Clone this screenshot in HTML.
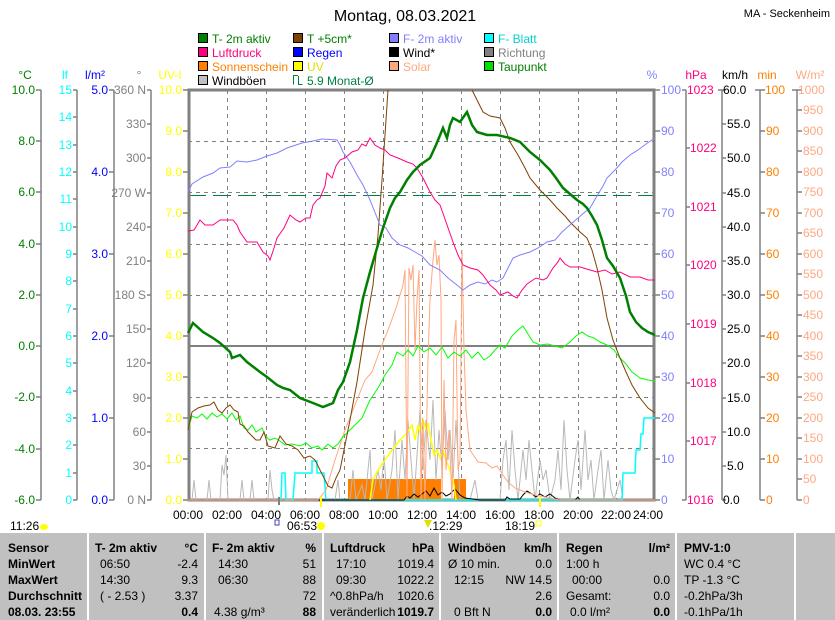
<!DOCTYPE html>
<html><head><meta charset="utf-8"><style>
html,body{margin:0;padding:0;background:#fff;}
body{width:835px;height:620px;overflow:hidden;position:relative;font-family:"Liberation Sans",sans-serif;}
svg{position:absolute;left:0;top:0;}
svg text{font-family:"Liberation Sans",sans-serif;font-size:12px;}
.tbl{position:absolute;left:0;top:533px;width:835px;height:87px;background:#c0c0c0;}
.col{position:absolute;top:0;height:87px;border-left:2px solid #fff;}
.r{position:absolute;font-size:12px;white-space:nowrap;color:#000;}
.b{font-weight:bold;}
</style></head><body>
<svg width="835" height="620" xmlns="http://www.w3.org/2000/svg">
<text x="405" y="21" font-size="16" style="font-size:16px" text-anchor="middle">Montag, 08.03.2021</text>
<text x="830" y="17" text-anchor="end" style="font-size:11px">MA - Seckenheim</text>
<g stroke="#000" stroke-width="1">
<rect x="198.5" y="33.5" width="9" height="9" fill="#008000"/>
<rect x="198.5" y="47.5" width="9" height="9" fill="#ff0080"/>
<rect x="198.5" y="61.5" width="9" height="9" fill="#ff8000"/>
<rect x="198.5" y="75.5" width="9" height="9" fill="#c0c0c0"/>
<rect x="293.5" y="33.5" width="9" height="9" fill="#804000"/>
<rect x="293.5" y="47.5" width="9" height="9" fill="#0000ff"/>
<rect x="293.5" y="61.5" width="9" height="9" fill="#ffff00"/>
<rect x="389.5" y="33.5" width="9" height="9" fill="#8080ff"/>
<rect x="389.5" y="47.5" width="9" height="9" fill="#000"/>
<rect x="389.5" y="61.5" width="9" height="9" fill="#ffa880"/>
<rect x="484.5" y="33.5" width="9" height="9" fill="#00ffff"/>
<rect x="484.5" y="47.5" width="9" height="9" fill="#808080"/>
<rect x="484.5" y="61.5" width="9" height="9" fill="#00e000"/>
</g>
<path d="M298.5 76 V84.5 H302.5 M293.5 84.5 V75.5 H298" stroke="#008040" fill="none"/>
<g>
<text x="212" y="43" fill="#008000">T- 2m aktiv</text>
<text x="212" y="57" fill="#ff0080">Luftdruck</text>
<text x="212" y="71" fill="#ff8000">Sonnenschein</text>
<text x="212" y="85" fill="#000">Windböen</text>
<text x="307" y="43" fill="#008000">T +5cm*</text>
<text x="307" y="57" fill="#0000ff">Regen</text>
<text x="307" y="71" fill="#e0e000">UV</text>
<text x="307" y="85" fill="#008040">5.9 Monat-Ø</text>
<text x="403" y="43" fill="#8080ff">F- 2m aktiv</text>
<text x="403" y="57" fill="#000">Wind*</text>
<text x="403" y="71" fill="#ffa880">Solar</text>
<text x="498" y="43" fill="#00d0d0">F- Blatt</text>
<text x="498" y="57" fill="#808080">Richtung</text>
<text x="498" y="71" fill="#008000">Taupunkt</text>
</g>
<text x="25" y="79" fill="#008000" text-anchor="middle">°C</text>
<text x="65" y="79" fill="#00ffff" text-anchor="middle">lf</text>
<text x="95" y="79" fill="#0000ff" text-anchor="middle">l/m²</text>
<text x="139" y="79" fill="#808080" text-anchor="middle">°</text>
<text x="170" y="79" fill="#ffff00" text-anchor="middle">UV-I</text>
<text x="652" y="79" fill="#8080ff" text-anchor="middle">%</text>
<text x="696" y="79" fill="#ff0080" text-anchor="middle">hPa</text>
<text x="735" y="79" fill="#000" text-anchor="middle">km/h</text>
<text x="767" y="79" fill="#ff8000" text-anchor="middle">min</text>
<text x="810" y="79" fill="#ffa880" text-anchor="middle">W/m²</text>

<g stroke="#808080" stroke-dasharray="4,4" stroke-width="1">
<path d="M188 141.5H655M188 192.5H655M188 244.5H655M188 295.5H655M188 397.5H655M188 448.5H655"/>
<path d="M227.5 90V500M266.5 90V500M305.5 90V500M344.5 90V500M383.5 90V500M422.5 90V500M461.5 90V500M500.5 90V500M539.5 90V500M578.5 90V500M616.5 90V500"/>
</g>
<path d="M188 195.5H655" stroke="#008040" stroke-dasharray="18,7" stroke-width="1"/>
<path d="M188 346H655" stroke="#808080" stroke-width="2"/>
<rect x="189" y="90" width="465" height="410" fill="none" stroke="#808080" stroke-width="3"/>

<g stroke="#808080" stroke-width="1.5" fill="none">
<path d="M41 90V500M77 90V500M114 90V500M151 90V500"/>
<path d="M36 90H41M36 141H41M36 192H41M36 244H41M36 295H41M36 346H41M36 397H41M36 449H41M36 500H41"/>
<path d="M73 90H77M73 117H77M73 145H77M73 172H77M73 199H77M73 227H77M73 254H77M73 281H77M73 309H77M73 336H77M73 363H77M73 391H77M73 418H77M73 445H77M73 473H77M73 500H77"/>
<path d="M109 90H114M109 172H114M109 254H114M109 336H114M109 418H114M109 500H114"/>
<path d="M147 90H151M147 124H151M147 158H151M147 193H151M147 227H151M147 261H151M147 295H151M147 329H151M147 363H151M147 398H151M147 432H151M147 466H151M147 500H151"/>
<path d="M183 90H188M183 131H188M183 172H188M183 213H188M183 254H188M183 295H188M183 336H188M183 377H188M183 418H188M183 459H188M183 500H188"/>
</g>
<g fill="#008000" text-anchor="end">
<text x="35" y="94">10.0</text><text x="35" y="145">8.0</text><text x="35" y="196">6.0</text><text x="35" y="248">4.0</text><text x="35" y="299">2.0</text><text x="35" y="350">0.0</text><text x="35" y="401">-2.0</text><text x="35" y="453">-4.0</text><text x="35" y="504">-6.0</text>
</g>
<g fill="#00ffff" text-anchor="end">
<text x="72" y="94">15</text><text x="72" y="121">14</text><text x="72" y="149">13</text><text x="72" y="176">12</text><text x="72" y="203">11</text><text x="72" y="231">10</text><text x="72" y="258">9</text><text x="72" y="285">8</text><text x="72" y="313">7</text><text x="72" y="340">6</text><text x="72" y="367">5</text><text x="72" y="395">4</text><text x="72" y="422">3</text><text x="72" y="449">2</text><text x="72" y="477">1</text><text x="72" y="504">0</text>
</g>
<g fill="#0000ff" text-anchor="end">
<text x="108" y="94">5.0</text><text x="108" y="176">4.0</text><text x="108" y="258">3.0</text><text x="108" y="340">2.0</text><text x="108" y="422">1.0</text><text x="108" y="504">0.0</text>
</g>
<g fill="#808080" text-anchor="end">
<text x="146" y="94">360 N</text><text x="146" y="128">330</text><text x="146" y="162">300</text><text x="146" y="197">270 W</text><text x="146" y="231">240</text><text x="146" y="265">210</text><text x="146" y="299">180 S</text><text x="146" y="333">150</text><text x="146" y="367">120</text><text x="146" y="402">90</text><text x="146" y="436">60</text><text x="146" y="470">30</text><text x="146" y="504">0 N</text>
</g>
<g fill="#ffff00" text-anchor="end">
<text x="182" y="94">10.0</text><text x="182" y="135">9.0</text><text x="182" y="176">8.0</text><text x="182" y="217">7.0</text><text x="182" y="258">6.0</text><text x="182" y="299">5.0</text><text x="182" y="340">4.0</text><text x="182" y="381">3.0</text><text x="182" y="422">2.0</text><text x="182" y="463">1.0</text><text x="182" y="504">0.0</text>
</g>

<g stroke="#808080" stroke-width="1.5" fill="none">
<path d="M686 90V500M722 90V500M760 90V500M797 90V500"/>
<path d="M655 90H660M655 131H660M655 172H660M655 213H660M655 254H660M655 295H660M655 336H660M655 377H660M655 418H660M655 459H660M655 500H660"/>
<path d="M682 90H686M686 148H690M686 207H690M686 265H690M686 324H690M686 383H690M686 441H690M682 500H686"/>
<path d="M722 90H726M722 124H726M722 158H726M722 193H726M722 227H726M722 261H726M722 295H726M722 329H726M722 363H726M722 398H726M722 432H726M722 466H726M722 500H726"/>
<path d="M760 90H765M760 131H765M760 172H765M760 213H765M760 254H765M760 295H765M760 336H765M760 377H765M760 418H765M760 459H765M760 500H765"/>
<path d="M797 90H802M797 110H802M797 131H802M797 151H802M797 172H802M797 192H802M797 213H802M797 233H802M797 254H802M797 274H802M797 295H802M797 315H802M797 336H802M797 356H802M797 377H802M797 397H802M797 418H802M797 438H802M797 459H802M797 479H802M797 500H802"/>
<path d="M718 90H722M755 90H760M792 90H797"/>
</g>
<g fill="#8080ff">
<text x="661" y="94">100</text><text x="661" y="135">90</text><text x="661" y="176">80</text><text x="661" y="217">70</text><text x="661" y="258">60</text><text x="661" y="299">50</text><text x="661" y="340">40</text><text x="661" y="381">30</text><text x="661" y="422">20</text><text x="661" y="463">10</text><text x="661" y="504">0</text>
</g>
<g fill="#ff0080">
<text x="687" y="94">1023</text><text x="690" y="152">1022</text><text x="690" y="211">1021</text><text x="690" y="269">1020</text><text x="690" y="328">1019</text><text x="690" y="387">1018</text><text x="690" y="445">1017</text><text x="687" y="504">1016</text>
</g>
<g fill="#000">
<text x="723" y="94">60.0</text><text x="727" y="128">55.0</text><text x="727" y="162">50.0</text><text x="727" y="197">45.0</text><text x="727" y="231">40.0</text><text x="727" y="265">35.0</text><text x="727" y="299">30.0</text><text x="727" y="333">25.0</text><text x="727" y="367">20.0</text><text x="727" y="402">15.0</text><text x="727" y="436">10.0</text><text x="727" y="470">5.0</text><text x="723" y="504">0.0</text>
</g>
<g fill="#ff8000">
<text x="765" y="94">100</text><text x="766" y="135">90</text><text x="766" y="176">80</text><text x="766" y="217">70</text><text x="766" y="258">60</text><text x="766" y="299">50</text><text x="766" y="340">40</text><text x="766" y="381">30</text><text x="766" y="422">20</text><text x="766" y="463">10</text><text x="766" y="504">0</text>
</g>
<g fill="#ffa880">
<text x="798" y="94">1000</text><text x="803" y="114">950</text><text x="803" y="135">900</text><text x="803" y="155">850</text><text x="803" y="176">800</text><text x="803" y="196">750</text><text x="803" y="217">700</text><text x="803" y="237">650</text><text x="803" y="258">600</text><text x="803" y="278">550</text><text x="803" y="299">500</text><text x="803" y="319">450</text><text x="803" y="340">400</text><text x="803" y="360">350</text><text x="803" y="381">300</text><text x="803" y="401">250</text><text x="803" y="422">200</text><text x="803" y="442">150</text><text x="803" y="463">100</text><text x="803" y="483">50</text><text x="803" y="504">0</text>
</g>

<path d="M348 479H441V500H348Z M454 479H466V500H454Z" fill="#ff8000"/>
<polyline fill="none" stroke="#b8b8b8" stroke-width="1" points="192,500 194,480 196,500 207,500 209,480 211,500 220,500 222,465 224,475 226,455 228,500 240,500 242,480 244,500 250,500 252,480 254,500 268,500 270,470 272,490 274,500 335,500 338,480 340,500 350,500 353,470 356,500 362,485 365,500 370,450 372,500 378,470 381,490 384,455 387,500 392,470 395,430 398,500 402,440 405,480 408,420 411,460 414,500 418,440 420,410 423,470 426,420 430,460 433,400 436,480 439,430 442,470 445,410 448,460 450,430 453,480 456,420 460,500 470,500 475,480 478,500 500,500 503,460 506,440 509,490 512,430 515,470 518,500 523,450 526,480 529,440 532,470 535,500 540,460 543,480 546,470 550,500 555,480 558,450 561,490 564,420 567,470 570,500 575,460 578,440 581,490 585,430 588,480 591,460 594,500 598,470 601,450 604,500 608,460 611,490 614,500 620,480 623,500"/>
<polyline fill="none" stroke="#00ffff" stroke-width="1.5" points="281,500 282,473 285,473 286,500 293,500 295,473 312,473 312,461 317,461 317,473 324,473 326,500 620,500 622,500 623,473 635,473 636,450 640,450 641,434 643,434 644,418 655,418"/>
<polyline fill="none" stroke="#000" stroke-width="1" points="188,500 404,500 407,496 410,498 414,494 418,497 422,494 426,491 430,496 434,488 438,495 442,492 446,496 450,494 455,489 460,495 465,498 480,500 505,500 507,497 510,499 520,499 523,495 527,491 532,494 536,497 540,494 545,497 550,494 555,498 560,500 575,500 578,497 580,500 655,500"/>
<polyline fill="none" stroke="#ffff00" stroke-width="1.5" points="370,500 373,480 378,470 385,460 392,450 400,440 407,433 412,425 415,440 418,425 420,432 423,420 426,430 428,423 431,440 434,455 437,450 440,458 443,450 446,460 450,470 454,485 456,500"/>
<polyline fill="none" stroke="#ffa880" stroke-width="1" points="188,500 318,500 326,490 335,460 345,430 355,405 365,380 372,372 380,350 390,325 397,305 403,285 405,270 407,500 409,268 411,280 413,265 415,350 417,300 419,270 421,500 423,420 425,500 428,360 430,300 433,260 435,240 437,265 439,255 441,300 442,500 444,380 446,470 449,430 452,500 454,340 456,320 458,470 460,460 462,250 464,350 466,410 470,450 478,462 486,463 492,468 497,466 503,475 508,482 515,488 525,492 535,495 545,497 560,500 655,500"/>
<polyline fill="none" stroke="#00ff00" stroke-width="1" points="188,430 192,416 197,418 202,414 207,419 212,413 217,417 222,414 227,419 232,413 236,420 240,416 244,428 248,430 252,425 256,432 262,428 266,437 270,440 275,438 280,441 285,445 292,444 300,446 306,443 312,448 318,446 322,450 328,444 333,448 338,444 342,438 348,432 355,425 362,418 370,400 378,388 385,375 392,365 397,352 403,356 408,350 413,356 418,346 424,352 430,348 436,355 442,347 448,358 454,352 460,356 466,350 472,358 478,352 484,360 490,356 495,350 500,345 505,348 512,336 518,330 523,326 528,334 533,342 540,345 548,344 555,346 562,348 570,342 576,336 582,332 588,336 594,338 600,342 607,345 614,350 620,358 626,364 632,372 640,378 648,380 655,381"/>
<polyline fill="none" stroke="#804000" stroke-width="1" points="188,430 192,412 198,408 204,406 210,405 214,402 218,410 222,413 226,408 230,405 234,410 238,412 240,424 244,426 248,432 252,436 256,440 260,440 264,432 268,446 275,448 280,436 286,444 292,446 298,450 304,458 310,456 315,460 320,470 324,478 328,486 332,488 336,478 340,470 344,450 350,420 357,382 365,330 373,285 378,235 382,180 386,120 388,90"/>
<polyline fill="none" stroke="#804000" stroke-width="1" points="472,90 478,102 483,112 490,116 500,118 505,128 510,142 518,155 525,168 530,178 540,190 550,200 557,208 565,216 570,222 580,232 587,238 592,250 597,268 602,290 607,318 613,340 620,358 626,372 632,385 640,398 648,408 655,413"/>
<polyline fill="none" stroke="#8080ff" stroke-width="1" points="188,192 192,184 203,177 213,173 220,168 230,167 237,161 247,162 257,160 267,156 277,153 287,148 302,143 313,141 322,139 337,140 340,145 343,152 350,162 357,175 363,185 370,200 376,215 380,225 386,228 392,238 400,245 408,248 415,252 422,256 430,265 440,270 448,278 457,285 463,290 470,285 478,282 485,284 492,280 497,282 503,278 508,268 513,258 520,255 530,252 538,248 547,242 555,240 562,232 570,225 578,218 585,212 590,208 597,196 603,186 607,178 615,170 622,162 630,155 638,150 646,144 655,138"/>
<polyline fill="none" stroke="#ff0080" stroke-width="1" points="188,231 194,230 200,220 205,225 213,225 220,220 226,220 233,220 237,225 240,232 247,242 257,242 263,252 268,256 270,260 274,248 277,238 284,228 290,215 296,220 300,222 306,218 310,218 313,205 317,200 320,198 325,186 327,173 332,178 336,166 340,160 345,158 352,152 358,150 362,144 366,146 370,138 375,145 380,148 385,150 390,155 398,158 407,162 413,164 417,168 423,178 430,192 435,200 440,205 446,222 453,242 458,255 463,265 470,268 478,270 483,275 490,285 496,290 500,295 508,292 513,296 517,298 522,290 527,284 530,282 536,278 543,280 547,278 553,268 558,262 560,258 565,264 570,267 580,267 590,270 597,272 605,270 612,274 620,272 630,277 640,277 648,280 655,280"/>
<polyline fill="none" stroke="#008000" stroke-width="2.5" points="188,333 193,323 203,332 213,338 220,343 230,352 232,358 240,355 247,362 260,372 267,377 277,385 283,388 290,390 300,398 313,403 323,407 333,403 338,390 343,382 350,362 357,330 363,298 370,272 377,248 383,228 390,208 395,198 400,192 407,180 413,172 420,165 430,158 436,145 443,128 447,138 450,125 453,118 460,122 467,112 472,125 477,132 487,135 497,135 510,138 520,142 530,152 540,160 550,170 556,178 563,188 570,194 577,200 583,204 587,208 592,216 597,225 602,240 607,258 613,266 620,278 626,296 630,312 636,322 642,328 648,332 655,335"/>

<g fill="#000" text-anchor="middle">
<text x="188" y="519">00:00</text><text x="227" y="519">02:00</text><text x="266" y="519">04:00</text><text x="305" y="519">06:00</text><text x="344" y="519">08:00</text><text x="383" y="519">10:00</text><text x="422" y="519">12:00</text><text x="461" y="519">14:00</text><text x="500" y="519">16:00</text><text x="539" y="519">18:00</text><text x="578" y="519">20:00</text><text x="616" y="519">22:00</text><text x="648" y="519">24:00</text>
</g>
<rect x="320" y="497" width="2" height="10" fill="#ffff00"/>
<rect x="539" y="497" width="2" height="10" fill="#ffff00"/>
<rect x="278" y="497" width="2" height="8" fill="#808080"/>
<text x="10" y="530" fill="#000">11:26</text>
<ellipse cx="44" cy="527" rx="4" ry="3" fill="#ffff00"/>
<rect x="275" y="520" width="4" height="5" fill="none" stroke="#4040c0" stroke-width="1"/>
<text x="287" y="530" fill="#000">06:53</text>
<circle cx="321" cy="526" r="4" fill="#ffff00"/>
<path d="M424 520 l4 8 l4 -8z" fill="#e0e000"/>
<text x="429" y="530" fill="#000">.12:29</text>
<text x="505" y="530" fill="#000">18:19</text>
<rect x="536" y="521" width="5" height="5" fill="none" stroke="#ffff00" stroke-width="1"/>
</svg>
<div class="tbl">
<div class="col" style="left:87px"></div><div class="col" style="left:204px"></div><div class="col" style="left:322px"></div><div class="col" style="left:439px"></div><div class="col" style="left:557px"></div><div class="col" style="left:675px"></div><div class="col" style="left:794px"></div>
<div class="r b" style="left:8px;top:8px">Sensor</div>
<div class="r b" style="left:8px;top:24px">MinWert</div>
<div class="r b" style="left:8px;top:40px">MaxWert</div>
<div class="r b" style="left:8px;top:56px">Durchschnitt</div>
<div class="r b" style="left:8px;top:72px">08.03. 23:55</div>

<div class="r b" style="left:95px;top:8px">T- 2m aktiv</div><div class="r b" style="right:637px;top:8px">°C</div>
<div class="r" style="left:100px;top:24px">06:50</div><div class="r" style="right:637px;top:24px">-2.4</div>
<div class="r" style="left:100px;top:40px">14:30</div><div class="r" style="right:637px;top:40px">9.3</div>
<div class="r" style="left:100px;top:56px">( - 2.53 )</div><div class="r" style="right:637px;top:56px">3.37</div>
<div class="r b" style="right:637px;top:72px">0.4</div>

<div class="r b" style="left:212px;top:8px">F- 2m aktiv</div><div class="r b" style="right:519px;top:8px">%</div>
<div class="r" style="left:218px;top:24px">14:30</div><div class="r" style="right:519px;top:24px">51</div>
<div class="r" style="left:218px;top:40px">06:30</div><div class="r" style="right:519px;top:40px">88</div>
<div class="r" style="right:519px;top:56px">72</div>
<div class="r" style="left:214px;top:72px">4.38 g/m³</div><div class="r b" style="right:519px;top:72px">88</div>

<div class="r b" style="left:330px;top:8px">Luftdruck</div><div class="r b" style="right:401px;top:8px">hPa</div>
<div class="r" style="left:336px;top:24px">17:10</div><div class="r" style="right:401px;top:24px">1019.4</div>
<div class="r" style="left:336px;top:40px">09:30</div><div class="r" style="right:401px;top:40px">1022.2</div>
<div class="r" style="left:330px;top:56px">^0.8hPa/h</div><div class="r" style="right:401px;top:56px">1020.6</div>
<div class="r" style="left:330px;top:72px">veränderlich</div><div class="r b" style="right:401px;top:72px">1019.7</div>

<div class="r b" style="left:448px;top:8px">Windböen</div><div class="r b" style="right:283px;top:8px">km/h</div>
<div class="r" style="left:448px;top:24px">Ø 10 min.</div><div class="r" style="right:283px;top:24px">0.0</div>
<div class="r" style="left:454px;top:40px">12:15</div><div class="r" style="right:283px;top:40px">NW 14.5</div>
<div class="r" style="right:283px;top:56px">2.6</div>
<div class="r" style="left:454px;top:72px">0 Bft N</div><div class="r b" style="right:283px;top:72px">0.0</div>

<div class="r b" style="left:566px;top:8px">Regen</div><div class="r b" style="right:165px;top:8px">l/m²</div>
<div class="r" style="left:566px;top:24px">1:00 h</div>
<div class="r" style="left:572px;top:40px">00:00</div><div class="r" style="right:165px;top:40px">0.0</div>
<div class="r" style="left:566px;top:56px">Gesamt:</div><div class="r" style="right:165px;top:56px">0.0</div>
<div class="r" style="left:570px;top:72px">0.0 l/m²</div><div class="r b" style="right:165px;top:72px">0.0</div>

<div class="r b" style="left:684px;top:8px">PMV-1:0</div>
<div class="r" style="left:684px;top:24px">WC 0.4 °C</div>
<div class="r" style="left:684px;top:40px">TP -1.3 °C</div>
<div class="r" style="left:684px;top:56px">-0.2hPa/3h</div>
<div class="r" style="left:684px;top:72px">-0.1hPa/1h</div>
</div>
</body></html>
